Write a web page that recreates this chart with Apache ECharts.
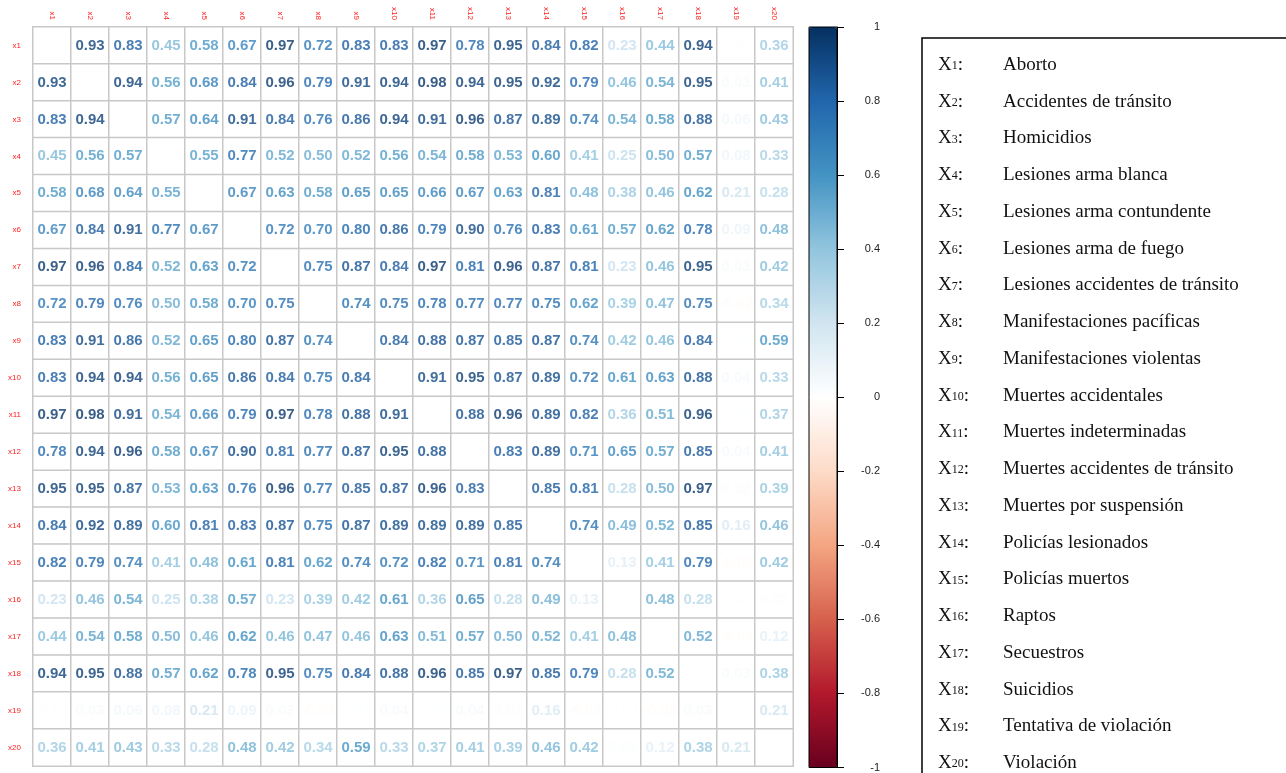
<!DOCTYPE html>
<html>
<head>
<meta charset="utf-8">
<script src="https://cdn.jsdelivr.net/npm/echarts@6/dist/echarts.min.js"></script>
<style>
  html, body { margin: 0; padding: 0; background: #fff; }
  #chart { width: 1286px; height: 773px; }
</style>
</head>
<body>
<div id="chart"></div>
<script>
// variable codes and their names
const vars = ['x1','x2','x3','x4','x5','x6','x7','x8','x9','x10','x11','x12','x13','x14','x15','x16','x17','x18','x19','x20'];
const names = [
  'Aborto', 'Accidentes de tránsito', 'Homicidios', 'Lesiones arma blanca',
  'Lesiones arma contundente', 'Lesiones arma de fuego', 'Lesiones accidentes de tránsito',
  'Manifestaciones pacíficas', 'Manifestaciones violentas', 'Muertes accidentales',
  'Muertes indeterminadas', 'Muertes accidentes de tránsito', 'Muertes por suspensión',
  'Policías lesionados', 'Policías muertos', 'Raptos', 'Secuestros', 'Suicidios',
  'Tentativa de violación', 'Violación'
];

// correlation rows (null = diagonal, left blank)
const r1  = [null,0.93,0.83,0.45,0.58,0.67,0.97,0.72,0.83,0.83,0.97,0.78,0.95,0.84,0.82,0.23,0.44,0.94,-0.01,0.36];
const r2  = [0.93,null,0.94,0.56,0.68,0.84,0.96,0.79,0.91,0.94,0.98,0.94,0.95,0.92,0.79,0.46,0.54,0.95,0.03,0.41];
const r3  = [0.83,0.94,null,0.57,0.64,0.91,0.84,0.76,0.86,0.94,0.91,0.96,0.87,0.89,0.74,0.54,0.58,0.88,0.06,0.43];
const r4  = [0.45,0.56,0.57,null,0.55,0.77,0.52,0.50,0.52,0.56,0.54,0.58,0.53,0.60,0.41,0.25,0.50,0.57,0.08,0.33];
const r5  = [0.58,0.68,0.64,0.55,null,0.67,0.63,0.58,0.65,0.65,0.66,0.67,0.63,0.81,0.48,0.38,0.46,0.62,0.21,0.28];
const r6  = [0.67,0.84,0.91,0.77,0.67,null,0.72,0.70,0.80,0.86,0.79,0.90,0.76,0.83,0.61,0.57,0.62,0.78,0.09,0.48];
const r7  = [0.97,0.96,0.84,0.52,0.63,0.72,null,0.75,0.87,0.84,0.97,0.81,0.96,0.87,0.81,0.23,0.46,0.95,0.03,0.42];
const r8  = [0.72,0.79,0.76,0.50,0.58,0.70,0.75,null,0.74,0.75,0.78,0.77,0.77,0.75,0.62,0.39,0.47,0.75,-0.02,0.34];
const r9  = [0.83,0.91,0.86,0.52,0.65,0.80,0.87,0.74,null,0.84,0.88,0.87,0.85,0.87,0.74,0.42,0.46,0.84,0.01,0.59];
const r10 = [0.83,0.94,0.94,0.56,0.65,0.86,0.84,0.75,0.84,null,0.91,0.95,0.87,0.89,0.72,0.61,0.63,0.88,0.04,0.33];
const r11 = [0.97,0.98,0.91,0.54,0.66,0.79,0.97,0.78,0.88,0.91,null,0.88,0.96,0.89,0.82,0.36,0.51,0.96,0.01,0.37];
const r12 = [0.78,0.94,0.96,0.58,0.67,0.90,0.81,0.77,0.87,0.95,0.88,null,0.83,0.89,0.71,0.65,0.57,0.85,0.04,0.41];
const r13 = [0.95,0.95,0.87,0.53,0.63,0.76,0.96,0.77,0.85,0.87,0.96,0.83,null,0.85,0.81,0.28,0.50,0.97,0.02,0.39];
const r14 = [0.84,0.92,0.89,0.60,0.81,0.83,0.87,0.75,0.87,0.89,0.89,0.89,0.85,null,0.74,0.49,0.52,0.85,0.16,0.46];
const r15 = [0.82,0.79,0.74,0.41,0.48,0.61,0.81,0.62,0.74,0.72,0.82,0.71,0.81,0.74,null,0.13,0.41,0.79,-0.02,0.42];
const r16 = [0.23,0.46,0.54,0.25,0.38,0.57,0.23,0.39,0.42,0.61,0.36,0.65,0.28,0.49,0.13,null,0.48,0.28,-0.01,0.02];
const r17 = [0.44,0.54,0.58,0.50,0.46,0.62,0.46,0.47,0.46,0.63,0.51,0.57,0.50,0.52,0.41,0.48,null,0.52,-0.02,0.12];
const r18 = [0.94,0.95,0.88,0.57,0.62,0.78,0.95,0.75,0.84,0.88,0.96,0.85,0.97,0.85,0.79,0.28,0.52,null,0.03,0.38];
const r19 = [-0.01,0.03,0.06,0.08,0.21,0.09,0.03,-0.02,0.01,0.04,0.01,0.04,0.02,0.16,-0.02,-0.01,-0.02,0.03,null,0.21];
const r20 = [0.36,0.41,0.43,0.33,0.28,0.48,0.42,0.34,0.59,0.33,0.37,0.41,0.39,0.46,0.42,0.02,0.12,0.38,0.21,null];
const rows = [r1,r2,r3,r4,r5,r6,r7,r8,r9,r10,r11,r12,r13,r14,r15,r16,r17,r18,r19,r20];

// RdBu palette, -1 .. 1
const rdbu = ['#67001F','#B2182B','#D6604D','#F4A582','#FDDBC7','#FFFFFF','#D1E5F0','#92C5DE','#4393C3','#2166AC','#053061'];

function hex(c) { return [1,3,5].map(i => parseInt(c.substr(i,2),16)); }
function colorFor(v) {
  const t = (v + 1) / 2 * (rdbu.length - 1);
  const i = Math.min(Math.floor(t), rdbu.length - 2);
  const f = t - i;
  const a = hex(rdbu[i]), b = hex(rdbu[i+1]);
  const m = a.map((x, k) => Math.round(x + (b[k] - x) * f));
  return 'rgb(' + m.join(',') + ')';
}

const cells = [];
const nums = [];
rows.forEach((row, r) => {
  row.forEach((v, c) => {
    cells.push([c, r, 0]);
    if (v !== null) {
      nums.push({ value: [c, r, v], label: { color: colorFor(v) } });
    }
  });
});

const chart = echarts.init(document.getElementById('chart'));

const legendItems = [];
names.forEach((n, i) => {
  const y = 65 + i * 36.75;
  legendItems.push({
    type: 'text', x: 938, y: y, z: 20,
    style: {
      text: '{a|X}{b|' + (i + 1) + '}{a|:}',
      verticalAlign: 'middle',
      rich: {
        a: { fontFamily: 'Liberation Serif', fontSize: 19, fill: '#111', height: 22, verticalAlign: 'bottom' },
        b: { fontFamily: 'Liberation Serif', fontSize: 12, fill: '#111', height: 20, verticalAlign: 'bottom' }
      }
    }
  });
  legendItems.push({
    type: 'text', x: 1003, y: y, z: 20,
    style: { text: n, fontFamily: 'Liberation Serif', fontSize: 19, fill: '#111', verticalAlign: 'middle' }
  });
});

chart.setOption({
  animation: false,
  backgroundColor: '#fff',
  grid: [
    { left: 33, top: 27, width: 760, height: 739 },
    { left: 809, top: 27, width: 28, height: 741, show: true, z: 10,
      backgroundColor: 'transparent', borderColor: '#000', borderWidth: 1 }
  ],
  xAxis: [
    {
      type: 'category', data: vars, position: 'top', gridIndex: 0,
      axisLine: { show: false }, axisTick: { show: false },
      axisLabel: { rotate: 90, fontSize: 8, color: '#ff2020', margin: 7, interval: 0 }
    },
    { type: 'value', gridIndex: 1, show: false, min: 0, max: 1 }
  ],
  yAxis: [
    {
      type: 'category', data: vars, inverse: true, gridIndex: 0,
      axisLine: { show: false }, axisTick: { show: false },
      axisLabel: { fontSize: 8, color: '#ff2020', margin: 12, interval: 0 }
    },
    {
      type: 'value', gridIndex: 1, position: 'right', min: -1, max: 1, interval: 0.2, z: 10,
      splitLine: { show: false },
      axisLine: { show: true, onZero: false, lineStyle: { color: '#000', width: 1 } },
      axisTick: { show: true, length: 7, lineStyle: { color: '#000' } },
      axisLabel: { align: 'right', margin: 43, fontSize: 11, color: '#222', fontFamily: 'Liberation Sans' }
    }
  ],
  visualMap: {
    type: 'continuous', min: -1, max: 1, seriesIndex: 1, dimension: 2,
    calculable: false, showLabel: false, text: null, z: 2,
    left: 809, top: 27, itemWidth: 28, itemHeight: 741, padding: 0,
    inRange: { color: rdbu }
  },
  graphic: [
    {
      type: 'rect', shape: { x: 922, y: 38, width: 420, height: 800 }, z: 10,
      style: { fill: '#fff', stroke: '#000', lineWidth: 1.5 }
    }
  ].concat(legendItems),
  series: [
    {
      type: 'heatmap', xAxisIndex: 0, yAxisIndex: 0, data: cells,
      itemStyle: { color: '#fff', borderColor: '#c8c8c8', borderWidth: 1.5 },
      emphasis: { disabled: true }, silent: true
    },
    {
      type: 'scatter', xAxisIndex: 0, yAxisIndex: 0, data: nums,
      symbolSize: 0, silent: true,
      label: {
        show: true, position: 'inside', fontSize: 15, fontWeight: 'bold',
        fontFamily: 'Liberation Sans',
        formatter: p => p.value[2].toFixed(2)
      }
    }
  ]
});
</script>
</body>
</html>
